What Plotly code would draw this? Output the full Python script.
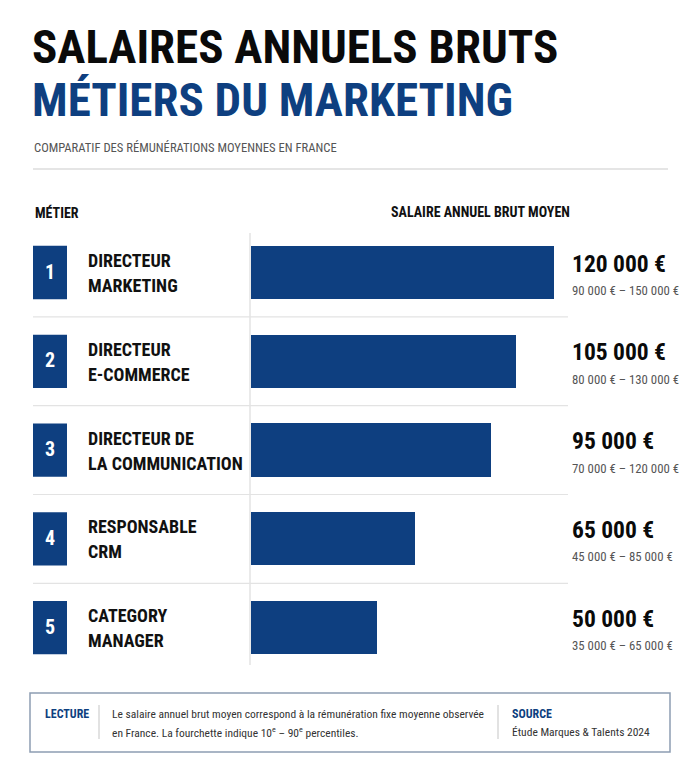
import plotly.graph_objects as go

W, H = 700, 768

# ---- data ----
ranks = [1, 2, 3, 4, 5]
jobs_line1 = ["DIRECTEUR", "DIRECTEUR", "DIRECTEUR DE", "RESPONSABLE", "CATEGORY"]
jobs_line2 = ["MARKETING", "E-COMMERCE", "LA COMMUNICATION", "CRM", "MANAGER"]
salaries = [120000, 105000, 95000, 65000, 50000]
range_low = [90000, 80000, 70000, 45000, 35000]
range_high = [150000, 130000, 120000, 85000, 65000]

BLUE = "#0e3f80"
NARROW = "Roboto Condensed, Liberation Sans Narrow, DejaVu Sans Condensed, Arial Narrow, sans-serif"


def fmt(v):
    return f"{v:,}".replace(",", " ") + " €"


def px(x):
    return x / W


def py(y):
    return 1 - y / H


# row geometry (pixels) -> y axis domain
row0, step = 272.5, 88.8
top_px = row0 - step / 2
bot_px = row0 + 4 * step + step / 2

fig = go.Figure()
fig.add_trace(go.Bar(
    y=ranks, x=salaries, orientation="h", width=0.6,
    marker=dict(color=BLUE, line=dict(width=0)),
    hoverinfo="skip", showlegend=False,
))

fig.update_layout(
    width=W, height=H, margin=dict(l=0, r=0, t=0, b=0),
    paper_bgcolor="white", plot_bgcolor="rgba(0,0,0,0)",
    xaxis=dict(domain=[px(251), px(554)], range=[0, max(salaries)],
               visible=False, fixedrange=True),
    yaxis=dict(domain=[py(bot_px), py(top_px)], range=[5.5, 0.5],
               visible=False, fixedrange=True),
    bargap=0,
)

shapes = []
ann = []


def text(x, y, s, size, color="#111", family=NARROW, bold=False,
         xanchor="left", yref="paper", yshift=0, xref="paper"):
    if bold:
        s = f"<b>{s}</b>"
    ann.append(dict(x=x, y=y, xref=xref, yref=yref, text=s, showarrow=False,
                    xanchor=xanchor, yanchor="middle", yshift=yshift,
                    font=dict(size=size, color=color, family=family)))


# ---- titles ----
text(px(30), py(46), "SALAIRES ANNUELS BRUTS", 47, "#0a0a0a", bold=True)
text(px(30), py(99), "MÉTIERS DU MARKETING", 47, BLUE, bold=True)
text(px(32), py(147), "COMPARATIF DES RÉMUNÉRATIONS MOYENNES EN FRANCE", 12.6,
     "#555555")
shapes.append(dict(type="line", xref="paper", yref="paper", x0=px(33), x1=px(668),
                   y0=py(169), y1=py(169), line=dict(color="#dddddd", width=1.5)))

# ---- column headers ----
text(px(33), py(212), "MÉTIER", 14, "#111", bold=True)
text(px(389), py(212), "SALAIRE ANNUEL BRUT MOYEN", 14, "#111", bold=True)

# vertical divider
shapes.append(dict(type="line", xref="paper", yref="paper", x0=px(250), x1=px(250),
                   y0=py(233), y1=py(665), line=dict(color="#dcdcdc", width=1.2)))

# row separators
for r in ranks[:-1]:
    shapes.append(dict(type="line", xref="paper", yref="y", x0=px(33), x1=px(568),
                       y0=r + 0.5, y1=r + 0.5, line=dict(color="#e3e3e3", width=1.2)))

# rows
for r, l1, l2, v, lo, hi in zip(ranks, jobs_line1, jobs_line2, salaries, range_low, range_high):
    shapes.append(dict(type="rect", xref="paper", yref="y", x0=px(33), x1=px(67),
                       y0=r - 0.3, y1=r + 0.3, fillcolor=BLUE, line=dict(width=0)))
    text(px(50), r, str(r), 20, "white", bold=True, xanchor="center", yref="y", yshift=1)
    text(px(86), r, l1, 18, "#111", bold=True, yref="y", yshift=12)
    text(px(86), r, l2, 18, "#111", bold=True, yref="y", yshift=-13)
    text(px(570), r, fmt(v), 23.5, "#0a0a0a", bold=True, yref="y", yshift=9)
    text(px(570), r, f"{fmt(lo)} – {fmt(hi)}", 12.8, "#555555", yref="y", yshift=-18)

# ---- footer ----
shapes.append(dict(type="rect", xref="paper", yref="paper", x0=px(30), x1=px(670),
                   y0=py(752), y1=py(693), line=dict(color="#8d9db2", width=1.5),
                   fillcolor="white"))
for xd in (99, 498):
    shapes.append(dict(type="line", xref="paper", yref="paper", x0=px(xd), x1=px(xd),
                       y0=py(739), y1=py(705), line=dict(color="#cfcfcf", width=1.2)))
text(px(43), py(714), "LECTURE", 12, BLUE, bold=True)
text(px(110), py(714),
     "Le salaire annuel brut moyen correspond à la rémunération fixe moyenne observée",
     11.5, "#333333")
text(px(110), py(732),
     "en France. La fourchette indique 10<sup>e</sup> – 90<sup>e</sup> percentiles.",
     11.5, "#333333")
text(px(510), py(714), "SOURCE", 12, BLUE, bold=True)
text(px(510), py(732), "Étude Marques & Talents 2024", 11.5, "#333333")

fig.update_layout(shapes=shapes, annotations=ann)
fig.write_html("out.html", config={"displayModeBar": False})
